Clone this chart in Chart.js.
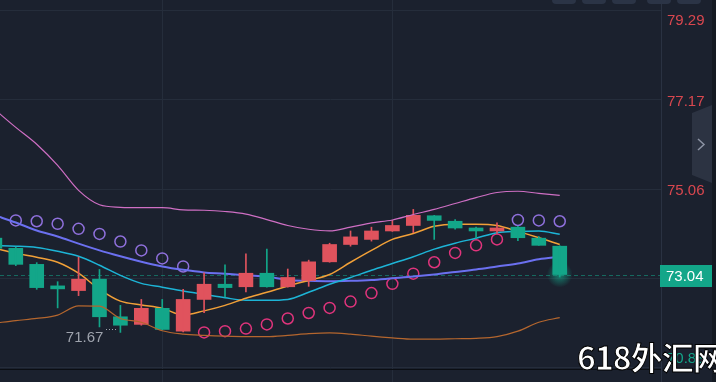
<!DOCTYPE html>
<html>
<head>
<meta charset="utf-8">
<script src="https://cdn.jsdelivr.net/npm/chart.js@4.4.1/dist/chart.umd.min.js"></script>
<style>
    html, body { margin: 0; padding: 0; background: #1b212e; }
    #wrap { position: relative; width: 716px; height: 382px; overflow: hidden; }
    #mark {
        position: absolute; left: 577px; top: 333px;
        font: bold 32px "Noto Sans CJK SC", sans-serif; color: #fff;
        -webkit-text-stroke: 1px #000; white-space: nowrap; letter-spacing: -1px;
    }
</style>
</head>
<body>
<div id="wrap">
    <canvas id="chart" width="716" height="382"></canvas>
    <div id="mark">618外汇网</div>
</div>
<script>
// candle index (one per bar)
const bars = [0, 1, 2, 3, 4, 5, 6, 7, 8, 9, 10, 11, 12, 13, 14, 15, 16, 17, 18, 19, 20, 21, 22, 23, 24, 25, 26, 27];
const opens  = [73.90, 73.66, 73.28, 72.71, 72.66, 72.93, 72.04, 71.86, 72.24, 71.70, 72.45, 72.81, 72.75, 73.07, 72.75, 72.90, 73.34, 73.75, 73.87, 74.07, 74.20, 74.43, 74.30, 74.10, 74.07, 74.16, 73.90, 73.71];
const highs  = [73.94, 73.69, 73.32, 72.87, 73.45, 73.16, 72.31, 72.45, 72.45, 72.69, 73.08, 73.27, 73.53, 73.64, 73.17, 73.38, 73.78, 74.07, 74.16, 74.32, 74.58, 74.44, 74.34, 74.16, 74.26, 74.18, 73.94, 73.72];
const lows   = [73.61, 73.25, 72.69, 72.25, 72.54, 71.80, 71.67, 71.84, 71.73, 71.68, 72.14, 72.51, 72.63, 72.74, 72.74, 72.76, 73.33, 73.71, 73.83, 74.06, 74.03, 73.87, 74.11, 73.90, 74.01, 73.84, 73.73, 72.98];
const closes = [73.66, 73.28, 72.73, 72.70, 72.93, 72.04, 71.84, 72.24, 71.74, 72.45, 72.81, 72.73, 73.07, 72.75, 72.97, 73.34, 73.75, 73.93, 74.07, 74.20, 74.44, 74.32, 74.14, 74.07, 74.13, 73.91, 73.73, 73.04];

// indicator lines
const maBlue   = [74.44, 74.27, 74.08, 73.94, 73.77, 73.61, 73.47, 73.34, 73.23, 73.15, 73.09, 73.06, 73.02, 72.99, 72.91, 72.89, 72.88, 72.89, 72.91, 72.95, 72.99, 73.04, 73.10, 73.16, 73.23, 73.30, 73.40, 73.46];
const maCyan   = [73.72, 73.71, 73.68, 73.59, 73.47, 73.26, 73.02, 72.83, 72.74, 72.65, 72.57, 72.49, 72.43, 72.43, 72.45, 72.62, 72.81, 72.97, 73.14, 73.30, 73.46, 73.64, 73.78, 73.90, 74.03, 74.06, 74.07, 73.99];
const maOrange = [73.66, 73.54, 73.45, 73.33, 73.07, 72.69, 72.41, 72.32, 72.24, 72.08, 72.18, 72.31, 72.48, 72.62, 72.77, 72.90, 73.04, 73.33, 73.61, 73.87, 74.01, 74.18, 74.23, 74.23, 74.20, 74.06, 73.91, 73.75];
const bandUp   = [76.94, 76.52, 76.12, 75.62, 75.03, 74.69, 74.63, 74.62, 74.62, 74.57, 74.56, 74.53, 74.47, 74.34, 74.20, 74.11, 74.07, 74.16, 74.26, 74.33, 74.46, 74.58, 74.72, 74.86, 74.98, 75.01, 74.96, 74.91];
const bandLow  = [71.89, 71.95, 72.00, 72.08, 72.30, 72.29, 72.00, 71.91, 71.71, 71.63, 71.60, 71.58, 71.57, 71.57, 71.60, 71.64, 71.66, 71.63, 71.58, 71.54, 71.51, 71.51, 71.52, 71.53, 71.57, 71.70, 71.91, 72.02];
const sar      = [null, 74.32, 74.30, 74.24, 74.12, 74.00, 73.82, 73.61, 73.42, 73.23, 71.67, 71.70, 71.76, 71.86, 72.00, 72.13, 72.25, 72.40, 72.60, 72.82, 73.06, 73.33, 73.55, 73.73, 73.87, 74.33, 74.32, 74.30];

// axis
const yTicks = [79.29, 77.17, 75.06, 72.95, 70.83];
const timeGrid = [8, 19];

const UP = '#e0535d';
const DOWN = '#13a689';
const isUp = i => closes[i] >= opens[i];
const candleColor = bars.map((b, i) => isUp(i) ? UP : DOWN);

const lastClose = closes[closes.length - 1];

const overlay = {
    id: 'overlay',
    beforeDatasetsDraw(chart) {
        const { ctx, chartArea, scales: { x, y } } = chart;
        ctx.save();
        // current price line
        const py = Math.round(y.getPixelForValue(lastClose)) + 0.5;
        ctx.strokeStyle = 'rgba(19,166,137,0.55)';
        ctx.setLineDash([4, 3]);
        ctx.lineWidth = 1;
        ctx.beginPath();
        ctx.moveTo(chartArea.left, py);
        ctx.lineTo(chartArea.right, py);
        ctx.stroke();
        ctx.setLineDash([]);
        // lower panel separator
        ctx.strokeStyle = '#0b0e13';
        ctx.beginPath();
        ctx.moveTo(0, 369.5);
        ctx.lineTo(chartArea.right, 369.5);
        ctx.stroke();
        ctx.restore();
    },
    afterDatasetsDraw(chart) {
        const { ctx, scales: { x, y } } = chart;
        ctx.save();
        // glow under last candle
        const last = bars.length - 1;
        const gx = x.getPixelForValue(bars[last]);
        const gy = y.getPixelForValue(lastClose);
        const g = ctx.createRadialGradient(gx, gy, 0, gx, gy, 13);
        g.addColorStop(0, 'rgba(19,166,137,0.75)');
        g.addColorStop(1, 'rgba(19,166,137,0)');
        ctx.fillStyle = g;
        ctx.beginPath();
        ctx.arc(gx, gy, 13, 0, Math.PI * 2);
        ctx.fill();

        // lowest low marker
        let lo = 0;
        lows.forEach((v, i) => { if (v < lows[lo]) lo = i; });
        const lx = x.getPixelForValue(bars[lo]);
        const ly = y.getPixelForValue(lows[lo]);
        ctx.fillStyle = '#9ea3ad';
        for (let d = lx - 14; d < lx - 2; d += 3) {
            ctx.fillRect(Math.round(d), Math.round(ly) - 3, 1, 1);
        }
        ctx.font = '15px "Liberation Sans", Arial, sans-serif';
        ctx.textAlign = 'right';
        ctx.textBaseline = 'top';
        ctx.fillText(lows[lo].toFixed(2), lx - 17, ly - 2);
        ctx.restore();
    },
    afterDraw(chart) {
        const { ctx, chartArea, scales: { y } } = chart;
        ctx.save();
        // axis separator
        ctx.strokeStyle = '#2a3242';
        ctx.lineWidth = 1;
        ctx.beginPath();
        ctx.moveTo(chartArea.right + 0.5, 0);
        ctx.lineTo(chartArea.right + 0.5, 382);
        ctx.stroke();
        ctx.fillStyle = '#141922';
        ctx.fillRect(712, 0, 4, 382);

        // price labels
        ctx.font = '15px "Liberation Sans", Arial, sans-serif';
        ctx.textAlign = 'left';
        ctx.textBaseline = 'middle';
        yTicks.forEach(v => {
            const p = y.getPixelForValue(v);
            const ty = Math.min(Math.max(p + 2, 21), 359);
            ctx.fillStyle = v > lastClose ? '#d9474f' : DOWN;
            ctx.fillText(v.toFixed(2), 667, ty);
        });

        // current price tag
        const py = y.getPixelForValue(lastClose);
        ctx.fillStyle = DOWN;
        ctx.fillRect(660, Math.round(py) - 10, 52, 22);
        ctx.fillStyle = '#ffffff';
        ctx.fillText(lastClose.toFixed(2), 666, Math.round(py) + 1.5);

        // top tabs
        ctx.fillStyle = '#2b3446';
        [552, 582, 612, 647, 677].forEach(tx => {
            ctx.beginPath();
            ctx.roundRect(tx, -6, 24, 10, 4);
            ctx.fill();
        });

        // side panel handle
        ctx.fillStyle = '#2c3342';
        ctx.beginPath();
        ctx.moveTo(712, 105);
        ctx.lineTo(692, 113);
        ctx.lineTo(692, 175);
        ctx.lineTo(712, 183);
        ctx.closePath();
        ctx.fill();
        ctx.strokeStyle = '#8c93a3';
        ctx.lineWidth = 1.5;
        ctx.beginPath();
        ctx.moveTo(698, 139);
        ctx.lineTo(704, 144.5);
        ctx.lineTo(698, 150);
        ctx.stroke();
        ctx.restore();
    }
};

const lineSet = (data, color, width) => ({
    type: 'line',
    data: bars.map((b, i) => ({ x: b, y: data[i] })),
    borderColor: color,
    borderWidth: width,
    pointRadius: 0,
    cubicInterpolationMode: 'monotone',
    fill: false
});

new Chart(document.getElementById('chart'), {
    type: 'line',
    data: {
        datasets: [
            lineSet(bandUp, '#cf6fc4', 1.2),
            lineSet(bandLow, '#b4662e', 1.2),
            {
                type: 'bar',
                data: bars.map((b, i) => ({ x: b, y: [lows[i], highs[i]] })),
                backgroundColor: candleColor,
                barThickness: 1,
                grouped: false
            },
            {
                type: 'bar',
                data: bars.map((b, i) => ({ x: b, y: [Math.min(opens[i], closes[i]), Math.max(opens[i], closes[i])] })),
                backgroundColor: candleColor,
                barThickness: 14,
                minBarLength: 3,
                grouped: false
            },
            lineSet(maOrange, '#f1a038', 1.5),
            lineSet(maCyan, '#1db4d6', 1.5),
            lineSet(maBlue, '#6b70f0', 2),
            {
                type: 'line',
                data: bars.map((b, i) => ({ x: b, y: sar[i] })),
                showLine: false,
                pointRadius: 5.5,
                pointBorderWidth: 1.5,
                pointBackgroundColor: 'rgba(0,0,0,0)',
                pointBorderColor: bars.map((b, i) => sar[i] > closes[i] ? '#8f70dc' : '#e0347c')
            }
        ]
    },
    options: {
        responsive: false,
        animation: false,
        devicePixelRatio: 1,
        layout: { padding: 0, autoPadding: false },
        plugins: { legend: { display: false }, tooltip: { enabled: false } },
        scales: {
            x: {
                type: 'linear',
                min: 0.245,
                max: 31.84,
                offset: false,
                grid: { color: '#252d3b', offset: false, drawTicks: false },
                border: { display: false },
                ticks: { display: false },
                afterBuildTicks: s => { s.ticks = timeGrid.map(v => ({ value: v })); },
                afterFit: s => { s.height = 0; }
            },
            y: {
                position: 'right',
                min: 70.497,
                max: 79.534,
                grid: { color: '#252d3b', drawTicks: false },
                border: { display: false },
                ticks: { display: false },
                afterBuildTicks: s => { s.ticks = yTicks.map(v => ({ value: v })); },
                afterFit: s => { s.width = 55; }
            }
        }
    },
    plugins: [overlay]
});
</script>
</body>
</html>
